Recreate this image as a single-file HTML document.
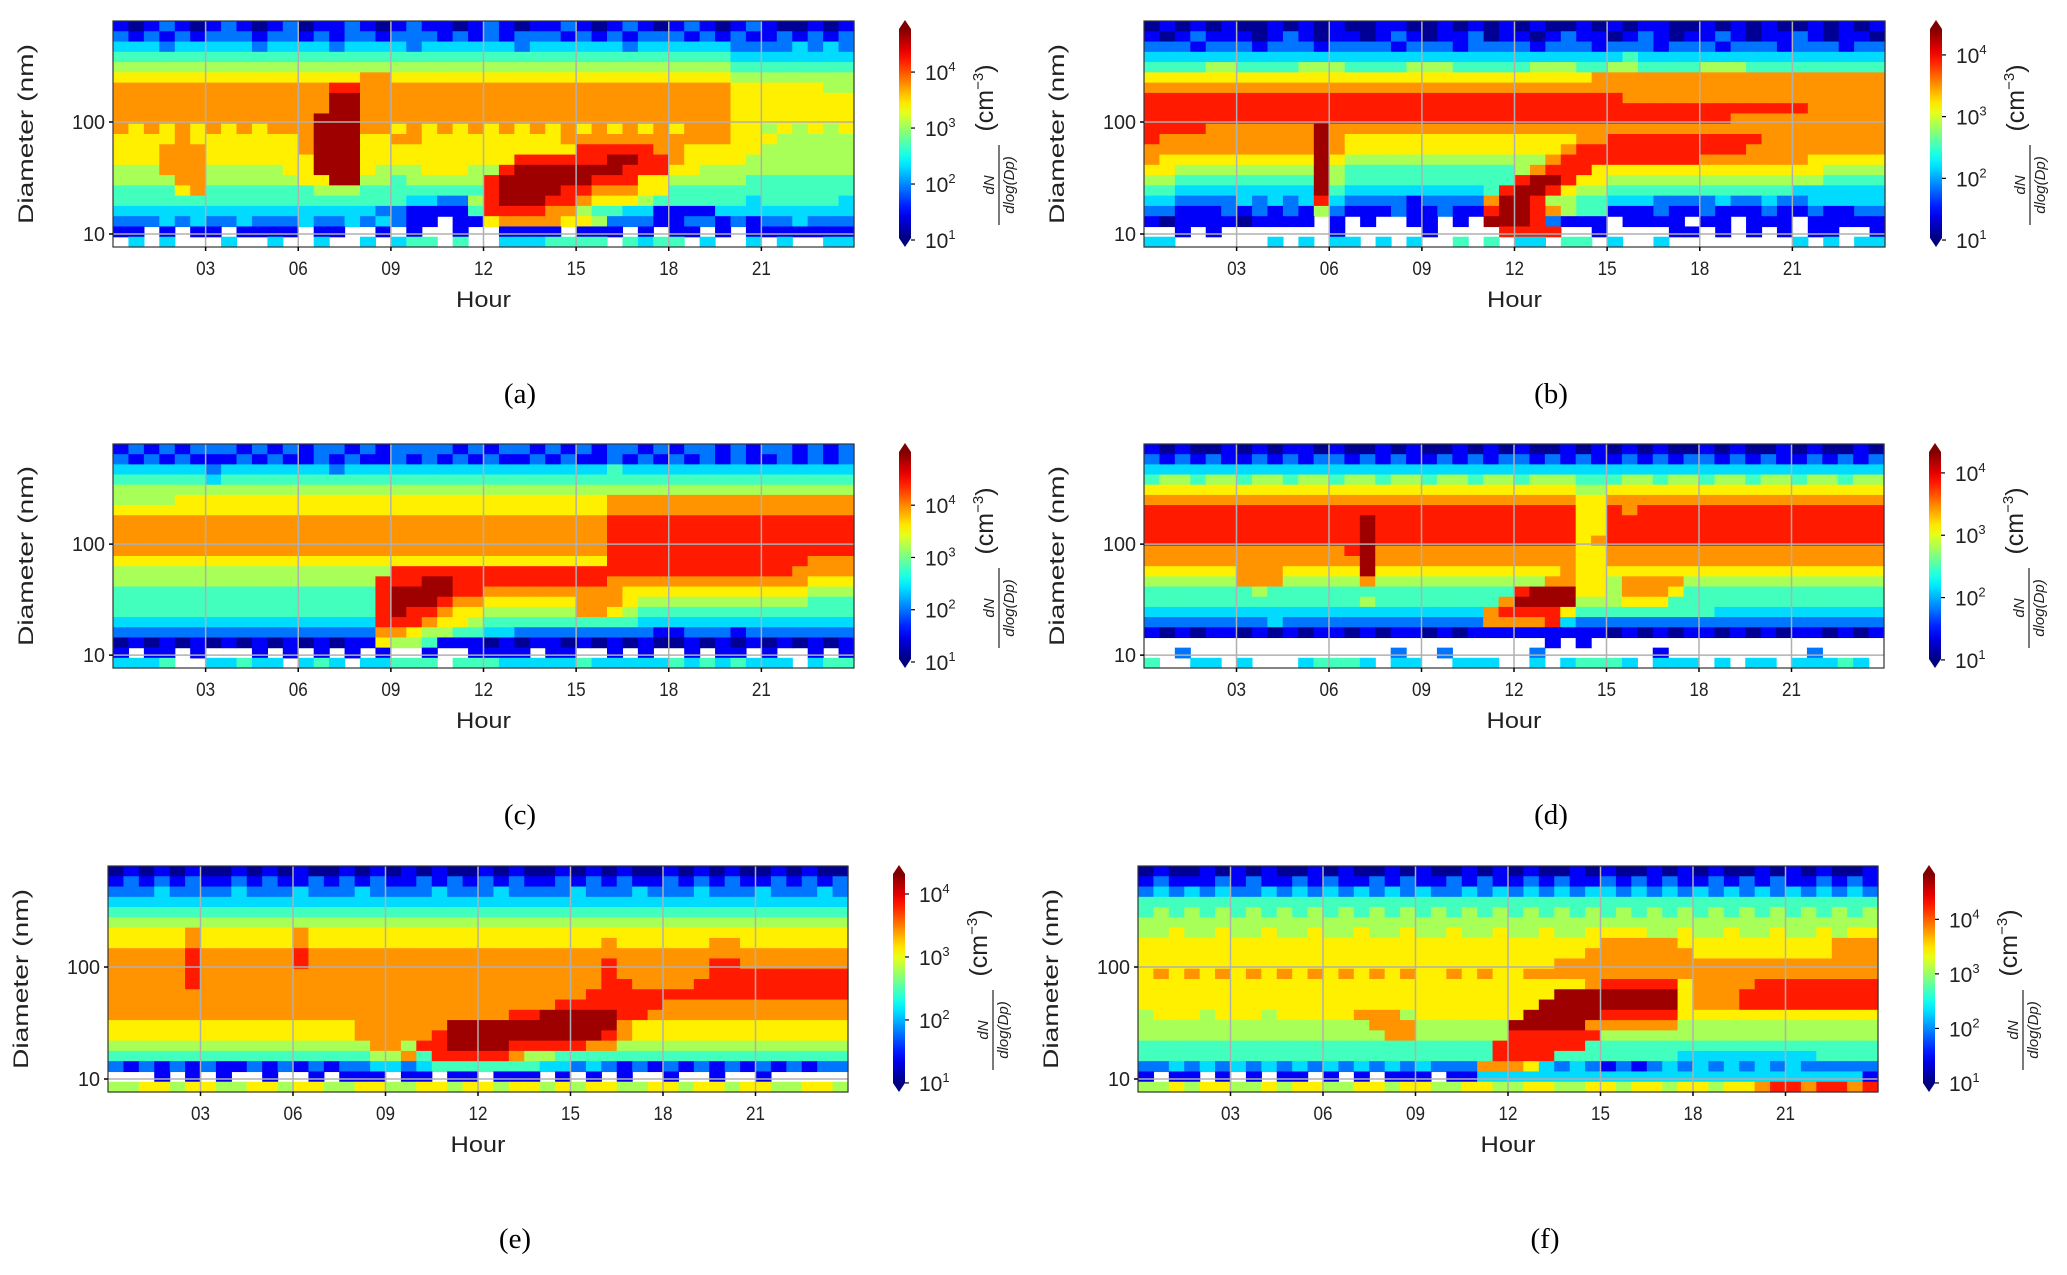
<!DOCTYPE html>
<html><head><meta charset="utf-8"><title>Particle size distribution</title>
<style>
html,body{margin:0;padding:0;background:#fff;}
svg{display:block;}
text{font-family:"Liberation Sans",sans-serif;fill:#222;}
.lbl{font-family:"Liberation Serif",serif;fill:#000;}
</style></head>
<body>
<svg id="fig" width="2067" height="1275" viewBox="0 0 2067 1275" xmlns="http://www.w3.org/2000/svg"></svg>
<script>
// ---- data ----
const panelNames = ['a','b','c','d','e','f'];
const xTickHours = [3,6,9,12,15,18,21];
const xTickLabels = ['03','06','09','12','15','18','21'];
const yTickValues = [10,100];
const yTickLabels = ['10','100'];
const cbTickExp = [1,2,3,4];
const cbMinLog = [0.875,0.887,0.885,0.87,0.856,0.834];
const cbMaxLog = [4.93,4.566,5.19,4.48,4.46,4.996];
const logDMin = 0.884, logDMax = 2.902;
const hourMin = 0, hourMax = 24;

const gridA = [
"101210121012011210121101210112101210121012100101",
"212121222122121221222121212221212122212121121212",
"333233333233332333323333332333333233333322223232",
"444444444444444444444444444444444444444433333333",
"555555555555555555555555555555555555555544444444",
"666666666666666677666666666666666666666655555555",
"777777777777778877777777777777777777777766666655",
"777777777777779977777777777777777777777766666666",
"777777777777779977777777777777777777777766666666",
"777777777777799977777777777777777777777766666666",
"767676767677799977676767676767676767677766565656",
"666676666666799966776666666667777777777766655555",
"666777666666799966666666666666888887766666555555",
"666777666666699966666666668888889988766665555555",
"555777555556699965556665589999999888665555555555",
"555577555555669955455555899999988866555554444444",
"444467444444455544444444899998877766444444444444",
"444444444444444444433225899988766654444443444443",
"333333333333333332211114888877544331111333333333",
"222323223222322323211.11677776652221122121223222",
"11.1.11.1111.11..1.1..1..1111.111.1.11.1.1111111",
".3.3...3..3..3..3.344.4..3334444.4344.3..3.3..33"];
const gridB = [
"010101001010100110010101010010101100101010010101",
"101211101210110121011201101211012101121011210110",
"222122212221222212221222212221222122212221222122",
"333333333333333333333333333333343333333333333333",
"444455444455544445554444455544554444555444444444",
"666666666666666666666666666667777777777777777777",
"777777777777777777777777777777777777777777777777",
"888888888888888888888888888888877777777777777777",
"888888888888888888888888888888888888888888877777",
"888888888888888888888888888888888888887777777777",
"888877777779777777777777777777777777777777777777",
"877777777779766666666666666677888888888877777777",
"777777777779766666666666666788888888888777777777",
"766666666669655555555555557888888888777777766666",
"665555555559544444444444578886666666666666665555",
"554444444449544444444444899866555555555555554444",
"443333333339433333333348998655444444444444333333",
"332222323238322221222279985544333222232232233333",
"221112121215211121121189987544111211211121121122",
"10111101111.1.1..11.1.99982111.1111.11.111.11111",
"..1.1.......1.....1....8888..1....11.1.1.1.11..1",
"33......3.3.33.3.3..4.4.33.44.3..3........3.3.33."];
const gridC = [
"121212221212122121222212122121212212122121221212",
"212121112121121211212121211212112121212121121212",
"333333233333332333333333333333334333333333333333",
"444444344444444444444444444444444444444444444444",
"555555555555555555555555555555555555555555555555",
"555566666666666666666666666666667777777777777777",
"666666666666666666666666666666667777777777777777",
"777777777777777777777777777777778888888888888888",
"777777777777777777777777777777778888888888888888",
"777777777777777777777777777777778888888888888888",
"777777777777777777777777777777778888888888888888",
"666666666666666666666666666666668888888888888777",
"555555555555555555888888888888888888888888887777",
"555555555555555558889988888888887777777777777666",
"444444444444444448999988777777777666666666666555",
"444444444444444448999877666666777655555555555444",
"444444444444444448988766555555776544444444444444",
"333333333333333338887665444444444433333333333333",
"222222222222222227765544332222222221122212222222",
"010101010101010116554111010110101010010101010101",
"1.11.1...1.1.1.1.1..1..1111.11..1.1..1.11.1..1.1",
"3334..33433.343.33444.4443333343333343434333.344"];
const gridD = [
"101001010110100101001010100101010100101001010010",
"212121121212212121121212212121121212212121121212",
"333333333333333333333333333333333333333333333333",
"455455455455455455455455455544455455455455455455",
"666666666666666666666666666655666666666666666666",
"777777777777777777777777777766777777777777777777",
"888888888888888888888888888866878888888888888888",
"888888888888889888888888888866888888888888888888",
"888888888888889888888888888866888888888888888888",
"888888888888889888888888888867888888888888888888",
"777777777777789777777777777766777777777777777777",
"777777777777779777777777777766777777777777777777",
"666666777666669666666666666766666666666666666666",
"555555777555557555555555557766577775555555555555",
"444444454444444444444444899966577764444444444444",
"444444444444445444444447999955566644444444444444",
"333333333333333333333378888644444444433333333333",
"222222223222222222222277778322222222222222222222",
"101011010101101011010111111111010101101010110101",
"..........................1.1...................",
"..2.............2..2.....2.......1.........2.....",
"4..33.3...34443.33..333..3.34443.333.3.33.33343."];
const gridE = [
"010101001010100101010100101001010100101010010100",
"121212112121121212112121212112121211212121121212",
"222322223222322232222322232222322232223222322232",
"333333333333333333333333333333333333333333333333",
"444444444444444444444444444444444444444444444444",
"555555555555555555555555555555555555555555555555",
"666667666666766666666666666666666666666666666666",
"666667666666766666666666666666667666666776666666",
"777778777777877777777777777777777777777777777777",
"777778777777877777777777777777778777777887777777",
"777778777777777777777777777777778777777888888888",
"777778777777777777777777777777778877778888888888",
"777777777777777777777777777777788888888888888888",
"777777777777777777777777777778888888777777777777",
"777777777777777777777777778899999887777777777777",
"666666666666666677777799999999999766666666666666",
"666666666666666677777899999999998766666666666666",
"555555555555555557758899998888877555555555555555",
"444444444444444445574888887554444444444444444444",
"212121211212121223323444444433232121212121212122",
"...1.1.1..1..1.111.11.11.111.1.1.1..1..1..1.....",
"556656655665665566556656656656566556656656655665"];
const gridF = [
"010010101001010010100101010010100101010010101001",
"121112121121211212112121121211212121121212112121",
"232323223232323232322323232323323232323232323232",
"444444444444444444444444444444444444444444444444",
"454545454545454545454545454545454545454545454545",
"555555555555555555555555555555555555555555555555",
"556556556556556556556556556556666556556556556566",
"666666666666666666666666666666777776666666666777",
"666666666666666666666666666667777777666666666777",
"666666666666666666666666666777777777777777777777",
"676767676767676767667676677777777777777777777777",
"666666666666666666666666666667888886777788888888",
"666666666666666666666666666999999996777888888888",
"666666666666666666666666669999999996777888888888",
"566656665666667775666666699999888886666666666666",
"555555555555555777555555999997777775555555555555",
"555555555555555577555555888888555555555555555555",
"444444444444444444444448888884444444444444444444",
"444444444444444444444448888444444443333333334444",
"223232323232323232322277763232121232323232322222",
"1.11.1.1.11.1.1.111.1133333333333333333333333331",
"556566556566556656655665566556656656656678878878"];
const grids = [gridA,gridB,gridC,gridD,gridE,gridF];

// ---- layout / style ----
const layout = [
 {x0:113,x1:854,y0:21,y1:247},
 {x0:1144,x1:1885,y0:21,y1:247},
 {x0:113,x1:854,y0:444,y1:668},
 {x0:1144,x1:1884,y0:444,y1:668},
 {x0:108,x1:848,y0:866,y1:1092},
 {x0:1138,x1:1878,y0:866,y1:1092}
];
const levelT = [0.02,0.12,0.24,0.34,0.44,0.54,0.64,0.73,0.85,0.97];
const NS='http://www.w3.org/2000/svg';
const svg=document.getElementById('fig');
function mk(tag,attrs,parent){const e=document.createElementNS(NS,tag);for(const k in attrs)e.setAttribute(k,attrs[k]);(parent||svg).appendChild(e);return e;}
function clamp(v){return Math.max(0,Math.min(1,v));}
function jet(t){const r=clamp(1.5-Math.abs(4*t-3)),g=clamp(1.5-Math.abs(4*t-2)),b=clamp(1.5-Math.abs(4*t-1));return 'rgb('+Math.round(r*255)+','+Math.round(g*255)+','+Math.round(b*255)+')';}
function norm(s,n){s=s.slice(0,n);while(s.length<n)s+=s[s.length-1];return s;}

const defs=mk('defs',{});
const lg=mk('linearGradient',{id:'jetg',x1:'0',y1:'1',x2:'0',y2:'0'},defs);
for(let i=0;i<=20;i++){mk('stop',{offset:(i/20),'stop-color':jet(i/20)},lg);}

panelNames.forEach((pn,pi)=>{
  const L=layout[pi];
  const g=mk('g',{});
  
  
  const xS=h=>L.x0+(h-hourMin)/(hourMax-hourMin)*(L.x1-L.x0);
  const yS=d=>L.y1-(Math.log10(d)-logDMin)/(logDMax-logDMin)*(L.y1-L.y0);
  const grid=grids[pi];
  const nRows=grid.length, nCols=48;
  const heat=mk('g',{},g);
  
  
  grid.forEach((rowStr,ri)=>{
    const s=norm(rowStr,nCols);
    const lTop=logDMax-ri*(logDMax-logDMin)/nRows;
    const lBot=logDMax-(ri+1)*(logDMax-logDMin)/nRows;
    const yT=yS(Math.pow(10,lTop)), yB=yS(Math.pow(10,lBot));
    for(let c=0;c<nCols;c++){
      const ch=s[c]; if(ch==='.'||ch===' ')continue;
      const lev=parseInt(ch,10);
      const hA=c*(hourMax-hourMin)/nCols, hB=(c+1)*(hourMax-hourMin)/nCols;
      const xa=xS(hA), xb=xS(hB);
      const r=mk('rect',{x:xa.toFixed(2),y:yT.toFixed(2),width:(xb-xa+0.6).toFixed(2),height:(yB-yT+0.6).toFixed(2),fill:jet(levelT[lev])},heat);
      
      
    }
  });
  xTickHours.forEach(h=>{const l=mk('line',{x1:xS(h),x2:xS(h),y1:L.y0,y2:L.y1,stroke:'#b0b0b0','stroke-width':1.5},g);
    
    });
  yTickValues.forEach(v=>{const l=mk('line',{x1:L.x0,x2:L.x1,y1:yS(v),y2:yS(v),stroke:'#b0b0b0','stroke-width':1.5},g);
    
    });
  const fr=mk('rect',{x:L.x0,y:L.y0,width:L.x1-L.x0,height:L.y1-L.y0,fill:'none',stroke:'#333','stroke-width':1.2},g);
  
  
  xTickHours.forEach((h,i)=>{
    mk('line',{x1:xS(h),x2:xS(h),y1:L.y1,y2:L.y1+4,stroke:'#000','stroke-width':1.5},g);
    const t=mk('text',{x:xS(h),y:L.y1+28,'font-size':19,'text-anchor':'middle',textLength:19,lengthAdjust:'spacingAndGlyphs'},g);
    t.textContent=xTickLabels[i];
    
    
  });
  yTickValues.forEach((v,i)=>{
    mk('line',{x1:L.x0-4,x2:L.x0,y1:yS(v),y2:yS(v),stroke:'#000','stroke-width':1.5},g);
    const t=mk('text',{x:L.x0-8,y:yS(v)+7,'font-size':20,'text-anchor':'end',textLength:yTickLabels[i].length*11,lengthAdjust:'spacingAndGlyphs'},g);
    t.textContent=yTickLabels[i];
    
    
  });
  const xl=mk('text',{x:(L.x0+L.x1)/2,y:L.y1+60,'font-size':22,'text-anchor':'middle',textLength:55,lengthAdjust:'spacingAndGlyphs'},g);
  xl.textContent='Hour';
  
  
  const ycx=L.x0-80, ycy=(L.y0+L.y1)/2;
  const yl=mk('text',{x:ycx,y:ycy,'font-size':21,'text-anchor':'middle',textLength:180,lengthAdjust:'spacingAndGlyphs',transform:'rotate(-90 '+ycx+' '+ycy+')'},g);
  yl.textContent='Diameter (nm)';
  
  
  const cx=L.x1+45, cw=12, ct=L.y0-1, cb=L.y1, tri=9;
  const cbg=mk('g',{},g);
  
  
  mk('rect',{x:cx,y:ct+tri,width:cw,height:cb-ct-2*tri,fill:'url(#jetg)'},cbg);
  mk('polygon',{points:cx+','+(ct+tri)+' '+(cx+cw)+','+(ct+tri)+' '+(cx+cw/2)+','+ct,fill:jet(1)},cbg);
  mk('polygon',{points:cx+','+(cb-tri)+' '+(cx+cw)+','+(cb-tri)+' '+(cx+cw/2)+','+cb,fill:jet(0)},cbg);
  const vmin=cbMinLog[pi], vmax=cbMaxLog[pi];
  cbTickExp.forEach(k=>{
    const y=cb-(k-vmin)/(vmax-vmin)*(cb-ct);
    mk('line',{x1:cx+cw,x2:cx+cw+4,y1:y,y2:y,stroke:'#000','stroke-width':1.2},cbg);
    const t=mk('text',{x:cx+cw+14,y:y+8,'font-size':21},cbg);
    t.textContent='10';
    const sp=mk('tspan',{dy:-9,'font-size':13},t);
    sp.textContent=String(k);
    
    
  });
  const ux=cx+94, uy=ct+78;
  const ut=mk('text',{x:ux,y:uy,'font-size':25,'text-anchor':'middle',transform:'rotate(-90 '+ux+' '+uy+')'},cbg);
  ut.textContent='(cm';
  const us=mk('tspan',{dy:-10,'font-size':15},ut); us.textContent='\u22123';
  const uc=mk('tspan',{dy:10},ut); uc.textContent=')';
  
  
  const fx=cx+100, fy=ct+165;
  const fg=mk('g',{transform:'rotate(-90 '+fx+' '+fy+')'},cbg);
  
  
  const nt=mk('text',{x:fx,y:fy-5,'font-size':15,'text-anchor':'middle','font-style':'italic'},fg); nt.textContent='dN';
  mk('line',{x1:fx-40,x2:fx+40,y1:fy,y2:fy,stroke:'#222','stroke-width':1.2},fg);
  const dt=mk('text',{x:fx,y:fy+15,'font-size':15,'text-anchor':'middle','font-style':'italic'},fg); dt.textContent='dlog(Dp)';
  const pl=mk('text',{x:L.x0+407,y:L.y1+156,'font-size':29,'text-anchor':'middle','class':'lbl'},g);
  pl.textContent='('+pn+')';
  
  
});
</script>
</body></html>
